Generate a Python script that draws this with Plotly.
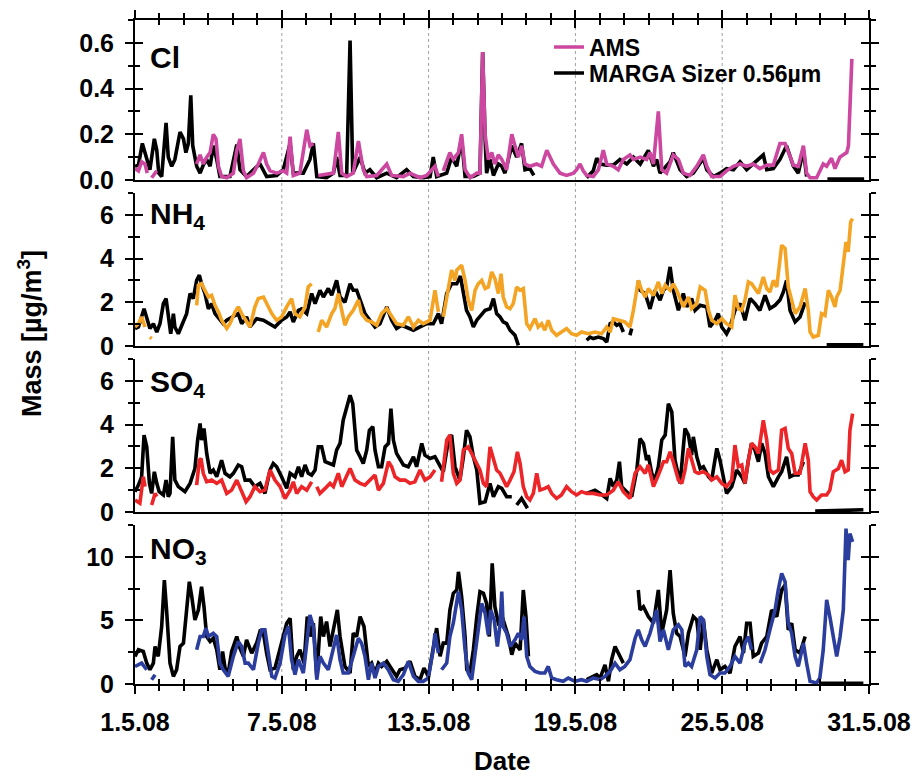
import pandas as pd
import plotly.graph_objects as go

START = pd.Timestamp("2008-05-01")

tick_dates = ["2008-05-01", "2008-05-07", "2008-05-13", "2008-05-19", "2008-05-25", "2008-05-31"]
tick_labels = ["1.5.08", "7.5.08", "13.5.08", "19.5.08", "25.5.08", "31.5.08"]
grid_dates = tick_dates[1:-1]

species_labels = ["Cl", "NH<sub>4</sub>", "SO<sub>4</sub>", "NO<sub>3</sub>"]
y_max = [0.7, 7, 7, 12.5]
y_major = [0.2, 2, 2, 5]
y_minor = [0.1, 1, 1, 2.5]
y_fmt = [".1f", "d", "d", "d"]
ams_colors = ["#CC479F", "#F4A424", "#EC2528", "#2B3E9D"]

# (day since 1 May 2008 00:00, mass in ug/m3); None marks a gap
cl_marga = [(0, 0.06), (0.14, 0.065), (0.30, 0.16), (0.48, 0.09), (0.61, 0.045), (0.79, 0.18), (0.89, 0.13), (0.97, 0.03), (1.09, 0.015), (1.27, 0.25), (1.36, 0.10), (1.50, 0.06), (1.63, 0.09), (1.84, 0.21), (1.98, 0.18), (2.08, 0.12), (2.18, 0.16), (2.28, 0.37), (2.36, 0.15), (2.52, 0.06), (2.66, 0.03), (2.79, 0.065), (2.93, 0.09), (3.07, 0.06), (3.20, 0.15), (3.34, 0.09), (3.47, 0.015), (3.88, 0.015), (4.16, 0.155), (4.29, 0.045), (4.56, 0.015), (4.84, 0.045), (5.11, 0.07), (5.38, 0.015), (5.79, 0.02), (6.06, 0.045), (6.34, 0.16), (6.47, 0.03), (6.88, 0.03), (7.15, 0.09), (7.29, 0.16), (7.43, 0.015), (7.83, 0.01), (8.11, 0.03), (8.24, 0.10), (8.38, 0.02), (8.65, 0.02), (8.79, 0.61), (8.90, 0.03), (9.20, 0.10), (9.40, 0.03), (9.60, 0.045), (9.88, 0.01), (10.29, 0.03), (10.69, 0.01), (11.10, 0.045), (11.38, 0.015), (11.78, 0.01), (12.06, 0.015), (12.19, 0.10), (12.33, 0.015), (12.74, 0.03), (12.94, 0.10), (13.15, 0.06), (13.35, 0.18), (13.49, 0.015), (13.83, 0.015), (14.10, 0.03), (14.21, 0.56), (14.31, 0.18), (14.37, 0.03), (14.51, 0.09), (14.65, 0.02), (14.85, 0.07), (14.99, 0.06), (15.12, 0.03), (15.40, 0.15), (15.60, 0.10), (15.80, 0.16), (15.94, 0.045), (16.14, 0.05), (16.30, 0.02), (16.35, None), (18.46, 0.01), (18.73, 0.04), (18.87, 0.095), (19.01, 0.07), (19.28, 0.065), (19.55, 0.065), (19.82, 0.09), (20.10, 0.07), (20.37, 0.10), (20.65, 0.07), (20.98, 0.13), (21.19, 0.06), (21.32, 0.09), (21.46, 0.03), (21.87, 0.08), (22.00, 0.12), (22.28, 0.045), (22.55, 0.015), (22.82, 0.03), (23.23, 0.095), (23.37, 0.045), (23.64, 0.015), (23.91, 0.03), (24.18, 0.05), (24.46, 0.045), (24.73, 0.08), (25.00, 0.045), (25.27, 0.07), (25.68, 0.11), (25.82, 0.045), (26.09, 0.05), (26.36, 0.09), (26.63, 0.15), (26.91, 0.06), (27.11, 0.03), (27.32, 0.13), (27.45, 0.015), (27.6, None), (28.3, 0.004), (29.8, 0.004)]

cl_ams = [(0.00, 0.05), (0.14, 0.04), (0.27, 0.08), (0.41, 0.07), (0.50, 0.03), (0.55, None), (0.68, 0.01), (0.89, 0.04), (0.95, None), (2.52, 0.07), (2.66, 0.11), (2.79, 0.07), (2.93, 0.10), (3.07, 0.12), (3.20, 0.20), (3.31, 0.18), (3.41, 0.06), (3.54, 0.015), (3.75, 0.01), (4.02, 0.03), (4.16, 0.13), (4.29, 0.18), (4.43, 0.04), (4.56, 0.01), (4.84, 0.03), (5.04, 0.07), (5.25, 0.12), (5.38, 0.07), (5.52, 0.04), (5.79, 0.03), (6.06, 0.04), (6.20, 0.03), (6.34, 0.19), (6.47, 0.02), (6.74, 0.03), (7.02, 0.22), (7.15, 0.15), (7.29, 0.16), (7.35, None), (7.49, 0.02), (8.11, 0.03), (8.31, 0.21), (8.45, 0.03), (8.65, 0.015), (8.92, 0.03), (9.13, 0.17), (9.33, 0.045), (9.47, 0.015), (9.88, 0.02), (10.29, 0.07), (10.49, 0.02), (10.97, 0.015), (11.24, 0.03), (11.65, 0.01), (11.92, 0.02), (12.26, 0.06), (12.40, 0.015), (12.50, None), (12.60, 0.04), (12.87, 0.12), (13.01, 0.09), (13.22, 0.12), (13.35, 0.20), (13.49, 0.045), (13.70, 0.01), (13.97, 0.03), (14.10, 0.03), (14.21, 0.56), (14.31, 0.20), (14.44, 0.09), (14.58, 0.12), (14.71, 0.07), (14.85, 0.11), (14.99, 0.09), (15.19, 0.045), (15.40, 0.20), (15.53, 0.15), (15.67, 0.10), (15.80, 0.15), (15.94, 0.07), (16.14, 0.06), (16.42, 0.07), (16.62, 0.06), (16.83, 0.13), (17.10, 0.07), (17.37, 0.03), (17.64, 0.02), (17.92, 0.03), (18.05, 0.045), (18.19, 0.07), (18.32, 0.04), (18.46, 0.02), (18.73, 0.015), (18.94, 0.045), (19.14, 0.13), (19.28, 0.07), (19.55, 0.06), (19.75, 0.045), (19.96, 0.09), (20.23, 0.11), (20.37, 0.09), (20.65, 0.10), (20.91, 0.09), (21.05, 0.12), (21.19, 0.07), (21.39, 0.30), (21.53, 0.045), (21.73, 0.03), (22.00, 0.11), (22.21, 0.09), (22.41, 0.03), (22.68, 0.02), (22.96, 0.06), (23.23, 0.11), (23.37, 0.06), (23.57, 0.015), (23.91, 0.015), (24.18, 0.04), (24.46, 0.06), (24.73, 0.07), (25.00, 0.06), (25.27, 0.07), (25.54, 0.05), (25.82, 0.065), (26.09, 0.065), (26.36, 0.16), (26.57, 0.16), (26.70, 0.12), (26.91, 0.065), (27.11, 0.06), (27.32, 0.15), (27.45, 0.03), (27.59, 0.01), (27.86, 0.01), (28.13, 0.07), (28.27, 0.06), (28.47, 0.095), (28.61, 0.05), (28.81, 0.10), (28.95, 0.11), (29.09, 0.12), (29.16, 0.15), (29.30, 0.53)]

nh4_marga = [(0, 0.8), (0.14, 0.87), (0.37, 1.7), (0.48, 1.33), (0.61, 0.8), (0.75, 1.02), (0.89, 0.64), (1.02, 1.02), (1.16, 1.94), (1.27, 2.17), (1.36, 1.33), (1.46, 0.56), (1.57, 1.48), (1.63, 0.87), (1.77, 0.56), (1.98, 1.18), (2.11, 1.48), (2.25, 2.4), (2.38, 2.17), (2.52, 3.0), (2.63, 3.24), (2.72, 2.85), (2.86, 2.4), (3.0, 1.7), (3.13, 1.94), (3.27, 1.48), (3.47, 1.18), (3.61, 1.02), (3.75, 1.18), (4.02, 1.33), (4.22, 1.48), (4.36, 1.02), (4.56, 1.33), (4.7, 0.87), (4.97, 1.25), (5.25, 1.18), (5.52, 1.02), (5.72, 0.87), (5.99, 1.18), (6.2, 1.33), (6.34, 1.56), (6.47, 1.1), (6.68, 1.63), (6.81, 1.7), (7.02, 1.48), (7.22, 2.4), (7.36, 1.94), (7.56, 2.55), (7.7, 2.24), (7.9, 2.63), (8.04, 2.32), (8.24, 3.0), (8.38, 2.24), (8.58, 2.0), (8.79, 2.85), (8.92, 2.55), (9.06, 2.55), (9.2, 2.1), (9.4, 1.48), (9.6, 1.18), (9.81, 0.87), (10.01, 1.02), (10.29, 1.79), (10.49, 1.18), (10.69, 0.8), (10.9, 0.95), (11.1, 0.87), (11.38, 0.72), (11.65, 0.87), (11.92, 1.02), (12.19, 1.02), (12.4, 1.48), (12.53, 1.02), (12.74, 2.4), (12.94, 2.85), (13.15, 2.85), (13.3, 3.2), (13.55, 1.63), (13.69, 1.33), (13.83, 0.87), (13.97, 1.18), (14.1, 1.33), (14.31, 1.63), (14.51, 1.7), (14.65, 2.17), (14.78, 1.48), (14.92, 1.33), (15.05, 1.1), (15.19, 1.02), (15.33, 0.72), (15.53, 0.49), (15.67, 0.03), (15.75, None), (18.46, 0.26), (18.6, 0.41), (18.73, 0.34), (18.94, 0.41), (19.14, 0.34), (19.28, 0.18), (19.42, 1.02), (19.55, 1.1), (19.69, 0.95), (19.82, 1.02), (19.96, 0.64), (20.1, None), (20.23, 0.49), (20.3, 0.8), (20.4, None), (20.57, 3.0), (20.64, 2.55), (20.85, 2.4), (21.05, 1.7), (21.25, 2.55), (21.46, 2.1), (21.6, 2.55), (21.73, 2.7), (21.87, 3.62), (22.0, 2.55), (22.21, 1.63), (22.41, 2.4), (22.55, 1.79), (22.75, 2.17), (22.89, 1.63), (23.1, 1.86), (23.37, 1.79), (23.5, 0.87), (23.71, 1.18), (23.84, 1.48), (23.98, 0.87), (24.18, 0.56), (24.32, 0.87), (24.52, 1.63), (24.73, 1.94), (24.93, 1.18), (25.14, 2.17), (25.34, 1.94), (25.54, 1.63), (25.75, 2.32), (25.95, 1.71), (26.16, 1.86), (26.36, 2.1), (26.5, 2.47), (26.63, 3.0), (26.77, 1.63), (26.98, 1.1), (27.18, 1.33), (27.39, 2.0), (27.5, None), (28.27, 0.05), (28.6, 0.04), (29.0, 0.06), (29.77, 0.05)]

nh4_ams = [(0, 0.87), (0.14, 1.02), (0.27, 1.33), (0.41, 0.87), (0.5, None), (0.61, 0.41), (0.68, 0.34), (0.75, None), (2.52, 1.86), (2.59, 2.78), (2.72, 2.85), (2.86, 2.55), (3.0, 2.24), (3.13, 2.32), (3.27, 1.86), (3.41, 1.56), (3.54, 1.18), (3.75, 0.8), (3.88, 1.02), (4.09, 1.56), (4.22, 1.79), (4.36, 1.48), (4.56, 1.1), (4.7, 0.87), (4.9, 1.79), (5.04, 2.17), (5.25, 2.24), (5.45, 1.79), (5.59, 1.48), (5.79, 1.18), (5.99, 1.33), (6.2, 1.79), (6.4, 2.17), (6.54, 1.48), (6.74, 1.33), (6.95, 1.79), (7.08, 2.7), (7.22, 2.85), (7.35, None), (7.49, 0.64), (7.63, 1.18), (7.83, 0.87), (8.04, 1.48), (8.17, 1.71), (8.31, 2.4), (8.45, 1.63), (8.58, 0.95), (8.72, 1.33), (8.92, 1.63), (9.13, 2.1), (9.26, 1.48), (9.47, 1.18), (9.67, 1.1), (9.88, 0.95), (10.08, 1.48), (10.29, 1.71), (10.49, 1.33), (10.69, 1.02), (10.97, 0.95), (11.17, 1.33), (11.38, 0.87), (11.58, 1.18), (11.78, 1.02), (12.06, 1.18), (12.26, 2.55), (12.4, 1.56), (12.5, None), (12.6, 1.33), (12.81, 2.7), (12.94, 3.47), (13.08, 3.0), (13.15, 3.47), (13.35, 3.7), (13.49, 3.0), (13.62, 2.1), (13.76, 1.63), (13.9, 2.55), (14.03, 2.85), (14.17, 3.0), (14.31, 2.63), (14.44, 2.7), (14.58, 3.39), (14.71, 3.08), (14.85, 2.4), (14.96, 3.31), (15.05, 2.24), (15.19, 1.79), (15.33, 1.71), (15.46, 1.94), (15.6, 2.7), (15.74, 2.55), (15.87, 2.63), (16.01, 1.02), (16.14, 0.8), (16.35, 1.25), (16.48, 0.87), (16.62, 1.02), (16.75, 0.72), (16.89, 1.18), (17.03, 0.72), (17.23, 0.49), (17.43, 0.64), (17.64, 0.8), (17.84, 0.56), (18.05, 0.49), (18.25, 0.64), (18.53, 0.56), (18.8, 0.64), (19.07, 0.56), (19.28, 0.87), (19.42, 0.64), (19.55, 1.25), (19.82, 1.18), (20.02, 1.1), (20.23, 0.87), (20.37, 1.63), (20.57, 3.0), (20.71, 2.55), (20.85, 2.24), (20.98, 2.63), (21.19, 2.32), (21.39, 2.93), (21.53, 2.4), (21.67, 2.78), (21.87, 2.55), (22.0, 2.85), (22.14, 2.55), (22.28, 2.1), (22.41, 1.79), (22.62, 2.24), (22.75, 1.71), (22.96, 1.94), (23.1, 2.7), (23.3, 2.55), (23.44, 1.63), (23.57, 1.18), (23.78, 1.02), (23.98, 1.25), (24.18, 1.02), (24.39, 0.87), (24.52, 2.32), (24.66, 1.71), (24.8, 1.63), (24.93, 2.1), (25.07, 2.93), (25.2, 2.85), (25.34, 2.63), (25.48, 2.4), (25.68, 3.16), (25.82, 2.63), (25.95, 2.47), (26.09, 3.0), (26.23, 2.7), (26.43, 4.61), (26.57, 4.46), (26.7, 2.7), (26.84, 2.1), (26.98, 1.48), (27.18, 1.79), (27.39, 2.63), (27.52, 1.63), (27.59, 0.64), (27.72, 0.41), (27.93, 0.49), (28.06, 1.48), (28.2, 1.4), (28.34, 2.55), (28.47, 2.24), (28.61, 1.79), (28.68, 2.24), (28.82, 2.55), (28.95, 3.62), (29.06, 4.76), (29.15, 4.31), (29.25, 5.68), (29.33, 5.83)]

so4_marga = [(0, 0.93), (0.14, 1.23), (0.27, 1.61), (0.37, 3.52), (0.48, 2.98), (0.59, 1.31), (0.68, 0.85), (0.79, 1.84), (0.89, 1.31), (0.99, 0.93), (1.16, 0.78), (1.27, 1.46), (1.36, 0.7), (1.43, 0.85), (1.54, 3.44), (1.63, 1.46), (1.77, 1.16), (2.04, 0.93), (2.25, 1.31), (2.45, 1.99), (2.56, 3.29), (2.66, 4.05), (2.72, 3.29), (2.82, 3.82), (2.93, 2.68), (3.07, 1.77), (3.2, 1.92), (3.34, 1.61), (3.54, 2.37), (3.68, 1.77), (3.88, 1.61), (4.02, 1.77), (4.22, 2.15), (4.36, 2.07), (4.5, 1.46), (4.7, 1.46), (4.9, 1.16), (5.11, 1.31), (5.31, 0.85), (5.52, 1.92), (5.65, 2.22), (5.79, 2.07), (5.99, 1.61), (6.2, 1.08), (6.34, 1.77), (6.54, 1.61), (6.68, 2.07), (6.81, 1.61), (6.95, 2.15), (7.08, 1.77), (7.22, 1.69), (7.36, 1.92), (7.49, 2.98), (7.63, 2.98), (7.77, 2.3), (7.97, 2.22), (8.11, 2.15), (8.24, 2.83), (8.38, 3.14), (8.51, 4.2), (8.65, 4.81), (8.79, 5.34), (8.9, 4.96), (9.06, 2.83), (9.2, 2.53), (9.33, 2.22), (9.47, 2.83), (9.58, 3.74), (9.72, 3.9), (9.81, 2.83), (9.95, 2.07), (10.08, 2.07), (10.22, 2.98), (10.36, 3.14), (10.46, 4.73), (10.56, 3.29), (10.69, 2.68), (10.83, 2.45), (10.97, 2.15), (11.17, 2.07), (11.38, 2.53), (11.51, 2.07), (11.72, 3.14), (11.85, 2.6), (12.06, 2.45), (12.26, 2.53), (12.47, 2.15), (12.6, 1.84), (12.81, 3.29), (12.94, 3.52), (13.08, 2.07), (13.28, 1.46), (13.42, 2.5), (13.55, 3.74), (13.69, 3.44), (13.83, 2.53), (13.97, 1.92), (14.1, 0.4), (14.31, 0.47), (14.51, 1.31), (14.65, 0.7), (14.85, 1.16), (14.99, 1.08), (15.19, 0.7), (15.4, 0.7), (15.5, None), (15.6, 0.32), (15.8, 0.62), (16.04, 0.17), (16.1, None), (18.46, 0.85), (18.66, 0.93), (18.8, 1.0), (19.01, 0.85), (19.28, 0.62), (19.42, 1.54), (19.55, 1.16), (19.69, 1.46), (19.8, 2.3), (19.89, 1.16), (20.1, 0.93), (20.3, 0.7), (20.51, 1.92), (20.64, 3.36), (20.78, 3.14), (20.91, 2.37), (20.98, 2.6), (21.12, 1.77), (21.25, 1.46), (21.39, 2.07), (21.53, 3.29), (21.67, 3.52), (21.8, 4.96), (21.94, 4.58), (22.07, 2.37), (22.28, 1.31), (22.48, 3.82), (22.62, 3.52), (22.75, 2.6), (22.82, 3.44), (22.96, 2.53), (23.1, 1.99), (23.23, 2.07), (23.44, 1.61), (23.57, 1.46), (23.78, 2.91), (23.91, 2.37), (24.05, 1.46), (24.18, 0.85), (24.39, 1.16), (24.59, 1.92), (24.8, 1.61), (24.93, 1.31), (25.07, 2.37), (25.2, 3.14), (25.34, 2.83), (25.48, 2.3), (25.61, 3.14), (25.75, 2.68), (25.89, 1.61), (26.09, 1.16), (26.3, 1.61), (26.43, 1.84), (26.63, 2.53), (26.77, 1.61), (26.91, 1.69), (27.11, 1.69), (27.32, 2.3), (27.4, None), (27.8, 0.04), (28.5, 0.05), (29.2, 0.08), (29.77, 0.1)]

so4_ams = [(0, 0.55), (0.2, 0.4), (0.34, 1.61), (0.41, 1.16), (0.5, None), (0.68, 0.32), (0.82, 0.85), (0.89, 0.7), (0.95, None), (2.52, 1.23), (2.63, 2.37), (2.7, 2.45), (2.79, 1.77), (2.93, 1.38), (3.13, 1.46), (3.34, 1.31), (3.54, 1.46), (3.75, 0.85), (3.95, 1.0), (4.16, 1.46), (4.36, 0.93), (4.54, 0.47), (4.7, 0.7), (4.9, 1.16), (5.11, 0.93), (5.31, 1.0), (5.52, 1.92), (5.72, 1.46), (5.93, 1.16), (6.13, 0.62), (6.34, 1.0), (6.47, 1.38), (6.61, 0.85), (6.81, 1.16), (7.02, 1.0), (7.22, 1.38), (7.3, None), (7.43, 1.16), (7.56, 0.85), (7.77, 1.08), (7.97, 1.31), (8.11, 1.16), (8.31, 1.77), (8.45, 1.16), (8.65, 1.61), (8.79, 1.99), (8.99, 1.46), (9.2, 1.31), (9.4, 1.23), (9.6, 1.46), (9.81, 1.69), (9.95, 1.0), (10.15, 1.31), (10.36, 2.3), (10.49, 2.07), (10.63, 1.61), (10.83, 1.46), (11.04, 1.46), (11.24, 1.31), (11.44, 1.38), (11.65, 1.92), (11.85, 1.46), (12.06, 1.61), (12.26, 1.92), (12.4, None), (12.53, 1.38), (12.74, 3.29), (12.87, 3.52), (13.01, 1.77), (13.15, 1.31), (13.28, 1.46), (13.42, 2.83), (13.62, 2.98), (13.76, 2.68), (13.97, 2.22), (14.1, 1.92), (14.24, 1.31), (14.37, 1.16), (14.51, 2.98), (14.65, 2.37), (14.78, 1.92), (14.92, 1.77), (15.05, 1.46), (15.19, 1.16), (15.33, 1.46), (15.49, 1.84), (15.63, 2.75), (15.74, 2.22), (15.87, 1.16), (16.01, 0.7), (16.14, 0.55), (16.28, 0.85), (16.42, 1.77), (16.55, 1.0), (16.75, 1.08), (16.89, 1.16), (17.03, 0.85), (17.23, 0.62), (17.43, 0.78), (17.64, 1.16), (17.84, 0.93), (18.05, 0.78), (18.25, 0.93), (18.46, 0.85), (18.73, 0.85), (19.01, 0.78), (19.28, 0.78), (19.55, 1.0), (19.75, 1.38), (19.96, 0.93), (20.23, 0.62), (20.44, 1.77), (20.64, 2.07), (20.85, 1.77), (20.98, 2.15), (21.19, 1.16), (21.39, 1.69), (21.6, 2.3), (21.73, 2.3), (21.87, 2.75), (22.0, 2.3), (22.21, 1.46), (22.35, 1.31), (22.48, 1.92), (22.62, 2.91), (22.75, 2.37), (22.89, 1.84), (23.03, 1.77), (23.23, 1.84), (23.44, 1.69), (23.57, 1.46), (23.78, 1.61), (23.98, 1.31), (24.18, 1.16), (24.39, 1.46), (24.52, 3.06), (24.66, 2.07), (24.8, 2.15), (24.93, 1.31), (25.07, 2.37), (25.2, 3.14), (25.34, 2.98), (25.48, 2.68), (25.68, 4.2), (25.82, 3.29), (25.95, 1.92), (26.09, 1.77), (26.3, 1.92), (26.43, 3.74), (26.57, 3.82), (26.7, 2.91), (26.84, 2.68), (26.98, 1.77), (27.18, 1.77), (27.39, 3.14), (27.52, 2.37), (27.59, 0.93), (27.72, 0.7), (27.86, 0.55), (28.06, 0.78), (28.27, 0.78), (28.4, 1.0), (28.54, 1.84), (28.75, 1.99), (28.88, 2.37), (29.02, 1.84), (29.15, 1.92), (29.22, 3.74), (29.33, 4.5)]

no3_marga = [(0, 2.17), (0.14, 2.69), (0.34, 2.56), (0.48, 1.64), (0.61, 1.12), (0.75, 1.64), (0.82, 2.95), (0.95, 2.17), (1.09, 4.52), (1.2, 8.17), (1.29, 5.82), (1.43, 1.64), (1.57, 0.6), (1.7, 1.12), (1.84, 2.95), (1.98, 3.21), (2.11, 5.82), (2.22, 8.04), (2.32, 6.87), (2.45, 5.04), (2.59, 5.82), (2.72, 7.65), (2.82, 6.08), (2.93, 3.73), (3.07, 3.34), (3.2, 3.6), (3.34, 2.69), (3.47, 1.12), (3.58, 2.56), (3.68, 1.25), (3.81, 0.86), (3.95, 2.56), (4.16, 3.73), (4.29, 2.82), (4.43, 2.17), (4.56, 3.47), (4.77, 2.43), (4.97, 3.21), (5.11, 4.13), (5.25, 3.99), (5.38, 2.43), (5.52, 1.12), (5.72, 1.25), (5.93, 2.69), (6.06, 3.73), (6.2, 4.78), (6.34, 5.17), (6.47, 1.12), (6.61, 2.17), (6.74, 2.69), (6.91, 1.64), (7.04, 5.3), (7.18, 3.73), (7.29, 4.78), (7.43, 0.6), (7.59, 5.3), (7.7, 3.73), (7.83, 4.91), (7.97, 2.95), (8.11, 4.26), (8.27, 5.82), (8.38, 3.73), (8.58, 1.38), (8.79, 0.86), (8.92, 3.99), (9.06, 3.73), (9.2, 5.3), (9.36, 4.52), (9.54, 1.38), (9.67, 1.64), (9.81, 0.86), (9.95, 1.64), (10.08, 1.38), (10.29, 1.78), (10.49, 1.12), (10.69, 0.6), (10.83, 1.12), (11.04, 1.25), (11.24, 1.78), (11.44, 0.6), (11.65, 0.34), (11.81, 1.25), (11.99, 0.6), (12.19, 2.95), (12.33, 4.39), (12.47, 2.17), (12.6, 3.21), (12.74, 3.21), (12.87, 5.82), (13.01, 7.13), (13.15, 7.39), (13.22, 8.82), (13.35, 6.87), (13.49, 3.73), (13.56, 1.12), (13.69, 0.86), (13.83, 2.69), (13.97, 5.3), (14.1, 7.26), (14.24, 7.13), (14.37, 6.34), (14.48, 3.73), (14.6, 9.48), (14.71, 6.08), (14.85, 4.78), (15.05, 5.04), (15.26, 3.73), (15.4, 2.3), (15.53, 3.21), (15.74, 2.69), (15.87, 7.39), (15.98, 5.3), (16.08, 2.17), (16.15, None), (18.46, 0.34), (18.73, 0.6), (18.87, 0.73), (19.01, 0.47), (19.21, 1.51), (19.35, 0.21), (19.48, 1.91), (19.62, 2.95), (19.82, 2.17), (19.96, 1.64), (20.1, None), (20.57, 7.39), (20.64, 5.82), (20.78, 6.08), (20.98, 5.3), (21.19, 4.78), (21.39, 7.39), (21.53, 3.99), (21.73, 5.82), (21.87, 8.96), (22.0, 5.56), (22.14, 3.99), (22.28, 3.73), (22.48, 2.17), (22.62, 3.99), (22.82, 5.3), (22.96, 5.04), (23.1, 2.69), (23.23, 5.04), (23.37, 2.69), (23.57, 0.86), (23.78, 1.91), (23.91, 1.12), (24.11, 1.38), (24.32, 0.86), (24.52, 2.95), (24.73, 3.73), (24.87, 2.43), (25.0, 4.78), (25.14, 4.78), (25.27, 2.17), (25.48, 2.43), (25.61, 3.21), (25.82, 3.73), (26.02, 5.82), (26.23, 5.3), (26.43, 7.39), (26.57, 7.78), (26.7, 4.26), (26.84, 4.78), (26.98, 2.69), (27.18, 2.43), (27.39, 3.73), (27.5, None), (27.99, 0.05), (28.8, 0.08), (29.3, 0.1), (29.77, 0.05)]

no3_ams = [(0, 1.38), (0.14, 1.51), (0.27, 1.64), (0.48, 1.12), (0.55, None), (0.68, 0.34), (0.82, 0.73), (0.9, None), (2.52, 2.69), (2.66, 3.73), (2.79, 3.73), (2.9, 4.39), (3.0, 3.73), (3.2, 3.99), (3.34, 3.73), (3.47, 1.64), (3.61, 1.12), (3.81, 0.6), (4.02, 2.17), (4.22, 3.34), (4.36, 2.95), (4.5, 1.64), (4.63, 1.64), (4.84, 1.12), (5.04, 3.21), (5.18, 4.26), (5.31, 4.26), (5.45, 2.43), (5.59, 0.6), (5.72, 0.47), (5.93, 1.64), (6.13, 3.86), (6.27, 4.52), (6.4, 1.91), (6.54, 0.73), (6.68, 1.91), (6.88, 0.86), (7.02, 3.21), (7.15, 5.43), (7.29, 4.52), (7.43, 0.34), (7.56, 2.17), (7.7, 1.64), (7.9, 1.12), (8.11, 2.69), (8.24, 3.86), (8.38, 1.91), (8.51, 0.86), (8.72, 0.86), (8.92, 2.17), (9.13, 3.6), (9.26, 3.21), (9.4, 2.17), (9.54, 0.34), (9.67, 1.64), (9.81, 0.47), (9.95, 1.38), (10.15, 1.64), (10.35, 1.12), (10.56, 0.34), (10.76, 0.21), (10.97, 0.73), (11.17, 1.78), (11.38, 0.6), (11.58, 0.21), (11.78, 0.21), (11.99, 0.47), (12.19, 2.69), (12.26, 3.99), (12.4, 2.43), (12.47, None), (12.53, 1.12), (12.74, 1.64), (12.87, 3.73), (13.01, 4.78), (13.22, 7.26), (13.35, 5.82), (13.49, 2.69), (13.62, 0.86), (13.76, 0.34), (13.9, 2.17), (14.03, 4.26), (14.17, 6.34), (14.31, 5.56), (14.44, 3.86), (14.54, 5.82), (14.68, 5.04), (14.81, 2.95), (14.92, 4.65), (14.99, 7.26), (15.05, 4.52), (15.19, 3.99), (15.33, 2.95), (15.53, 3.47), (15.67, 3.99), (15.8, 3.47), (15.9, 5.3), (16.01, 2.17), (16.14, 1.38), (16.35, 0.99), (16.55, 0.86), (16.75, 0.86), (16.89, 1.38), (17.03, 0.47), (17.23, 0.34), (17.5, 0.21), (17.71, 0.47), (17.98, 0.21), (18.25, 0.34), (18.46, 0.21), (18.73, 0.47), (19.01, 0.34), (19.21, 0.6), (19.42, 0.99), (19.62, 1.64), (19.82, 1.12), (20.02, 1.38), (20.23, 1.91), (20.44, 3.6), (20.57, 4.26), (20.71, 3.47), (20.85, 2.95), (21.05, 3.99), (21.19, 5.04), (21.32, 5.82), (21.46, 3.34), (21.6, 4.26), (21.8, 2.69), (22.0, 4.26), (22.21, 4.65), (22.35, 4.26), (22.48, 1.38), (22.62, 1.64), (22.75, 1.38), (22.96, 2.69), (23.1, 5.3), (23.23, 5.04), (23.37, 2.17), (23.5, 0.73), (23.71, 0.47), (23.91, 0.86), (24.11, 0.86), (24.32, 1.38), (24.52, 2.17), (24.73, 1.64), (24.93, 3.21), (25.07, 3.73), (25.2, 2.69), (25.35, None), (25.55, 1.64), (25.75, 2.69), (25.95, 4.26), (26.16, 5.82), (26.29, 7.39), (26.43, 8.69), (26.57, 8.04), (26.7, 4.78), (26.84, 3.99), (26.98, 2.17), (27.11, 1.38), (27.32, 3.21), (27.45, 1.64), (27.59, 0.21), (27.86, 0.08), (27.99, 0.47), (28.13, 2.69), (28.27, 6.61), (28.4, 5.3), (28.54, 3.73), (28.68, 2.17), (28.82, 3.73), (28.95, 5.82), (29.06, 12.22), (29.15, 9.74), (29.22, 11.83), (29.33, 11.17)]

marga_series = [cl_marga, nh4_marga, so4_marga, no3_marga]
ams_series = [cl_ams, nh4_ams, so4_ams, no3_ams]


def to_xy(pairs):
    xs = [START + pd.Timedelta(days=d) for d, _ in pairs]
    ys = [v for _, v in pairs]
    return xs, ys


W, H = 917, 778
FONT = "Liberation Sans, Arial, Helvetica, sans-serif"


def fy(px):
    return 1 - px / H


x_dom = [135 / W, 869 / W]
panel_px = [(20, 180), (193, 346), (359, 512), (525, 684)]

fig = go.Figure()
for i in range(4):
    k = i + 1
    xa = "x" if k == 1 else f"x{k}"
    ya = "y" if k == 1 else f"y{k}"
    mx, my = to_xy(marga_series[i])
    fig.add_trace(go.Scatter(x=mx, y=my, mode="lines", connectgaps=False,
                             line=dict(color="black", width=3.6),
                             name="MARGA Sizer 0.56µm", showlegend=(k == 1),
                             legend="legend2", xaxis=xa, yaxis=ya, hoverinfo="skip"))
    ax, ay = to_xy(ams_series[i])
    fig.add_trace(go.Scatter(x=ax, y=ay, mode="lines", connectgaps=False,
                             line=dict(color=ams_colors[i], width=3.6),
                             name="AMS", showlegend=(k == 1),
                             legend="legend", xaxis=xa, yaxis=ya, hoverinfo="skip"))

tickfont = dict(family=FONT, size=25, color="black", weight="bold")
layout = {}
extra_y = 4
extra_x = 4
x_range = [tick_dates[0], tick_dates[-1]]
for i in range(4):
    k = i + 1
    top, bot = panel_px[i]
    dom = [fy(bot), fy(top)]
    xname = "xaxis" if k == 1 else f"xaxis{k}"
    yname = "yaxis" if k == 1 else f"yaxis{k}"
    xref = "x" if k == 1 else f"x{k}"
    yref = "y" if k == 1 else f"y{k}"
    yr = [0, y_max[i]]

    def minor_y(t):
        return dict(ticks=t, ticklen=5, tickwidth=2, tickcolor="black",
                    tickmode="linear", tick0=0, dtick=y_minor[i], showgrid=False)

    layout[yname] = dict(domain=dom, range=yr, anchor=xref, showline=True,
                         linecolor="black", linewidth=2, ticks="outside", ticklen=8,
                         tickwidth=2, tickcolor="black", tickmode="linear", tick0=0,
                         dtick=y_major[i], minor=minor_y("outside"), showgrid=False,
                         zeroline=False, tickfont=tickfont, tickformat=y_fmt[i],
                         ticklabelstandoff=6, fixedrange=True, automargin=False)
    for side, t in [("left", "inside"), ("right", "outside"), ("right", "inside")]:
        extra_y += 1
        layout[f"yaxis{extra_y}"] = dict(overlaying=yref, anchor=xref, side=side, range=yr,
                                         showline=True, linecolor="black", linewidth=2,
                                         ticks=t, ticklen=8, tickwidth=2, tickcolor="black",
                                         tickmode="linear", tick0=0, dtick=y_major[i],
                                         minor=minor_y(t), showticklabels=False,
                                         showgrid=False, zeroline=False, fixedrange=True,
                                         automargin=False)
        fig.add_trace(go.Scatter(x=[], y=[], xaxis=xref, yaxis=f"y{extra_y}",
                                 showlegend=False, hoverinfo="skip"))

    def minor_x(t):
        return dict(ticks=t, ticklen=5, tickwidth=2, tickcolor="black",
                    tickmode="linear", tick0=tick_dates[0], dtick=86400000, showgrid=False)

    base_x = dict(domain=x_dom, range=x_range, type="date", anchor=yref, showline=True,
                  linecolor="black", linewidth=2, showgrid=False, zeroline=False,
                  ticks="", showticklabels=False, fixedrange=True, automargin=False)
    if k == 4:
        base_x.update(ticks="outside", ticklen=8, tickwidth=2, tickcolor="black",
                      tickmode="array", tickvals=tick_dates, ticktext=tick_labels,
                      showticklabels=True, tickfont=tickfont, minor=minor_x("outside"),
                      ticklabelstandoff=7)
    layout[xname] = base_x
    overlays = []
    if k == 1:
        overlays = [("top", "outside"), ("top", "inside")]
    if k == 4:
        overlays = [("bottom", "inside")]
    for side, t in overlays:
        extra_x += 1
        layout[f"xaxis{extra_x}"] = dict(overlaying=xref, anchor=yref, side=side, type="date",
                                         range=x_range, showline=True, linecolor="black",
                                         linewidth=2, ticks=t, ticklen=8, tickwidth=2,
                                         tickcolor="black", tickmode="array",
                                         tickvals=tick_dates, ticktext=tick_labels,
                                         minor=minor_x(t), showticklabels=False,
                                         showgrid=False, zeroline=False, fixedrange=True,
                                         automargin=False)
        fig.add_trace(go.Scatter(x=[], y=[], xaxis=f"x{extra_x}", yaxis=yref,
                                 showlegend=False, hoverinfo="skip"))

shapes = [dict(type="line", xref="x4", x0=d, x1=d, yref="paper",
               y0=fy(panel_px[3][1]), y1=fy(panel_px[0][0]),
               line=dict(color="#A0A0A0", width=1, dash="dot"), layer="below")
          for d in grid_dates]

label_centers = [58, 215, 383, 550]
annotations = []
for i in range(4):
    annotations.append(dict(text=species_labels[i], xref="paper", yref="paper",
                            x=148 / W, y=fy(label_centers[i]), xanchor="left", yanchor="middle",
                            showarrow=False,
                            font=dict(family=FONT, size=30, color="black", weight="bold")))
annotations.append(dict(text="Date", xref="paper", yref="paper", x=502 / W, y=fy(761),
                        xanchor="center", yanchor="middle", showarrow=False,
                        font=dict(family=FONT, size=26, color="black", weight="bold")))
annotations.append(dict(text="Mass [µg/m<sup>3</sup>]", xref="paper", yref="paper",
                        x=30 / W, y=fy(334), xanchor="center", yanchor="middle",
                        textangle=-90, showarrow=False,
                        font=dict(family=FONT, size=27, color="black", weight="bold")))

legend_font = dict(family=FONT, size=23, color="black", weight="bold")
fig.update_layout(
    width=W, height=H, margin=dict(l=0, r=0, t=0, b=0, autoexpand=False),
    plot_bgcolor="white", paper_bgcolor="white",
    showlegend=True,
    legend=dict(x=549 / W, y=fy(47), xanchor="left", yanchor="middle",
                font=legend_font, bgcolor="rgba(0,0,0,0)"),
    legend2=dict(x=549 / W, y=fy(73), xanchor="left", yanchor="middle",
                 font=legend_font, bgcolor="rgba(0,0,0,0)"),
    shapes=shapes, annotations=annotations,
    **layout,
)

fig.write_html("out.html")
